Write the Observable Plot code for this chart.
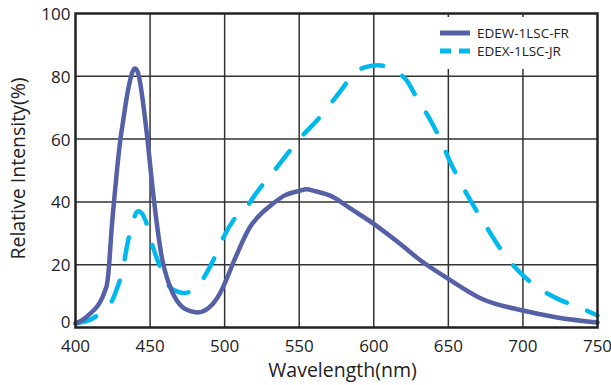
<!DOCTYPE html>
<html><head><meta charset="utf-8">
<script src="https://cdn.jsdelivr.net/npm/d3@7"></script>
<script src="https://cdn.jsdelivr.net/npm/@observablehq/plot@0.6"></script>
<style>
body{margin:0;background:#fff;}
#wrap{position:relative;width:611px;height:385px;font-family:"Open Sans",sans-serif;overflow:hidden;}
#legend{position:absolute;left:432px;top:17px;width:161px;height:52px;background:#fff;font-size:13.5px;color:#222;}
.row{position:absolute;left:8px;display:flex;align-items:center;white-space:nowrap;}
.row svg{margin-right:7px;}
</style></head>
<body><div id="wrap"><div id="chart"></div><div id="legend"></div></div>
<script>
const seriesNames = ["EDEW-1LSC-FR", "EDEX-1LSC-JR"];
const seriesColors = ["#5560a6", "#00b9ec"];
const xTicks = [400, 450, 500, 550, 600, 650, 700, 750];
const yTicks = [0, 20, 40, 60, 80, 100];
const xTitle = "Wavelength(nm)";
const yTitle = "Relative Intensity(%)";

// EDEW-1LSC-FR (solid)
const edewNm  = [400, 405, 410, 415, 418, 420, 421, 422, 423, 424, 426, 428, 430, 432, 435, 437, 438.5, 440, 442, 444, 446, 448, 450, 452, 454, 456, 458, 460, 463, 468, 472, 477, 482, 487, 492, 497, 500, 507, 517, 525, 530, 540, 550, 555, 560, 573, 584, 600, 618, 631, 650, 673, 700, 723, 750];
const edewVal = [1.3, 2.5, 4.5, 7, 9.5, 12, 13.5, 17, 23, 30, 41, 51, 59.5, 66, 75, 79.5, 81.8, 82.5, 81, 76, 69, 61, 52, 43, 35, 28, 22, 18, 13.5, 8.5, 6.4, 5.2, 4.8, 5.5, 7.5, 11, 14, 22, 32, 36.5, 38.5, 42, 43.5, 44, 43.5, 41.5, 38, 33, 26.5, 21.5, 15.5, 9, 5.4, 3.2, 1.6];

// EDEX-1LSC-JR (dashed)
const edexNm  = [400, 405, 410, 415, 420, 425, 428, 431, 435, 438, 442, 445, 447, 452, 457, 463, 468, 472, 478, 483, 488, 494, 499, 508, 515, 520, 535, 551, 562, 578, 587, 595, 603, 609, 615, 622, 629, 638, 645, 651, 659.5, 666, 675, 685, 695, 710, 723, 740, 750];
const edexVal = [1.3, 1.8, 2.5, 4, 6, 9, 12.7, 17, 27, 33, 37, 36, 34, 25.5, 19, 13, 11.5, 11, 11.5, 13.5, 17.5, 23, 28.5, 35.5, 38.5, 42, 51, 60.5, 66, 75.5, 81, 83, 83.5, 83, 81.5, 78.7, 73, 66, 59.5, 53, 45, 39.5, 32.5, 25, 19, 12.7, 9.2, 6, 3.8];

const edew = edewNm.map((x, i) => ({nm: x, v: edewVal[i]}));
const edex = edexNm.map((x, i) => ({nm: x, v: edexVal[i]}));

const plot = Plot.plot({
  width: 611, height: 385,
  marginLeft: 75, marginRight: 14, marginTop: 13, marginBottom: 58,
  style: {fontFamily: "'Open Sans', sans-serif", fontSize: "17px", color: "#222", background: "#fff", overflow: "visible"},
  x: {domain: [400, 750], label: null},
  y: {domain: [0, 100], label: null},
  marks: [
    Plot.gridX(xTicks.slice(1, -1), {stroke: "#333", strokeOpacity: 1, strokeWidth: 1.5}),
    Plot.gridY(yTicks.slice(1, -1), {stroke: "#333", strokeOpacity: 1, strokeWidth: 1.5}),
    Plot.line(edex, {x: "nm", y: "v", stroke: seriesColors[1], strokeWidth: 4.5, strokeDasharray: "22,22", curve: "monotone-x"}),
    Plot.line(edew, {x: "nm", y: "v", stroke: seriesColors[0], strokeWidth: 4.5, curve: "monotone-x"}),
    Plot.frame({stroke: "#222", strokeWidth: 2.5}),
    Plot.axisX(xTicks, {tickSize: 0, tickPadding: 12, label: null, fontSize: 17}),
    Plot.axisY(yTicks.slice(1), {tickSize: 0, tickPadding: 5, label: null, fontSize: 17, dy: 1}),
    Plot.axisY(yTicks.slice(0, 1), {tickSize: 0, tickPadding: 5, label: null, fontSize: 17, dy: -5}),
    Plot.text([xTitle], {frameAnchor: "bottom", lineAnchor: "middle", dy: 43, dx: 6, fontSize: 19.5, fill: "#222"}),
    Plot.text([yTitle], {frameAnchor: "left", textAnchor: "middle", lineAnchor: "middle", rotate: -90, dx: -57, dy: -2, fontSize: 19.5, fill: "#222"})
  ]
});
document.getElementById("chart").appendChild(plot);

const legend = document.getElementById("legend");
seriesNames.forEach((name, i) => {
  const row = document.createElement("div");
  row.className = "row";
  row.style.top = (i === 0 ? 7 : 25) + "px";
  const dash = i === 1 ? 'stroke-dasharray="11,8"' : "";
  row.innerHTML = `<svg width="30" height="10"><line x1="0" x2="30" y1="5" y2="5" stroke="${seriesColors[i]}" stroke-width="5" ${dash}/></svg><span>${name}</span>`;
  legend.appendChild(row);
});
</script>
</body></html>
